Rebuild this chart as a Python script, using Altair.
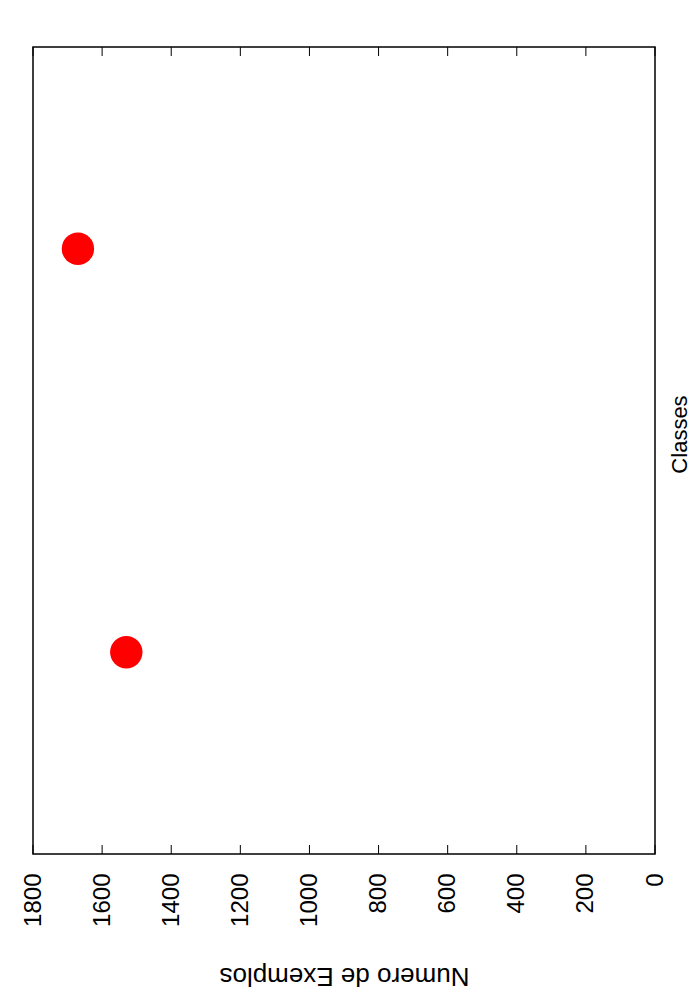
import altair as alt
import pandas as pd

classes = [1, 2]
exemplos = [1530, 1670]
tick_values = [0, 200, 400, 600, 800, 1000, 1200, 1400, 1600, 1800]

W, H = 622, 807

df = pd.DataFrame({"classe": classes, "n": exemplos})
ticks = pd.DataFrame({"v": tick_values})

xscale = alt.Scale(domain=[0, 1800], reverse=True, nice=False, zero=False)
yscale = alt.Scale(domain=[0.5, 2.5], nice=False, zero=False)

points = alt.Chart(df).mark_circle(color="#ff0000", opacity=1, size=1050).encode(
    x=alt.X("n:Q", scale=xscale,
            axis=alt.Axis(orient="bottom", values=tick_values, format="d", tickSize=0,
                          domain=False, grid=False,
                          labelAngle=270, labelAlign="right", labelBaseline="middle",
                          labelPadding=19, labelFontSize=24, labelFont="Liberation Sans",
                          labelColor="black", title="Numero de Exemplos", titleAngle=180,
                          titleBaseline="alphabetic", titleY=113,
                          titleFontSize=26, titleFont="Liberation Sans", titleFontWeight="normal",
                          titleColor="black")),
    y=alt.Y("classe:Q", scale=yscale,
            axis=alt.Axis(orient="right", labels=False, ticks=False, domain=False, grid=False,
                          title="Classes", titleAngle=270, titleBaseline="alphabetic",
                          titleX=31, titleY=387, titleFontSize=22,
                          titleFont="Liberation Sans", titleFontWeight="normal",
                          titleColor="black")),
)

top_ticks = alt.Chart(ticks).mark_rule(color="black", strokeWidth=1).encode(
    x=alt.X("v:Q", scale=xscale),
    y=alt.value(0), y2=alt.value(9),
)
bottom_ticks = alt.Chart(ticks).mark_rule(color="black", strokeWidth=1).encode(
    x=alt.X("v:Q", scale=xscale),
    y=alt.value(H - 9), y2=alt.value(H),
)

chart = alt.layer(top_ticks, bottom_ticks, points).properties(
    width=W, height=H,
    autosize=alt.AutoSizeParams(type="none"),
    padding={"left": 33, "top": 47, "right": 45, "bottom": 146},
    background="white",
).configure_view(stroke="black", strokeWidth=1.5)

chart.save("out.html", embed_options={"renderer": "svg", "actions": False})
